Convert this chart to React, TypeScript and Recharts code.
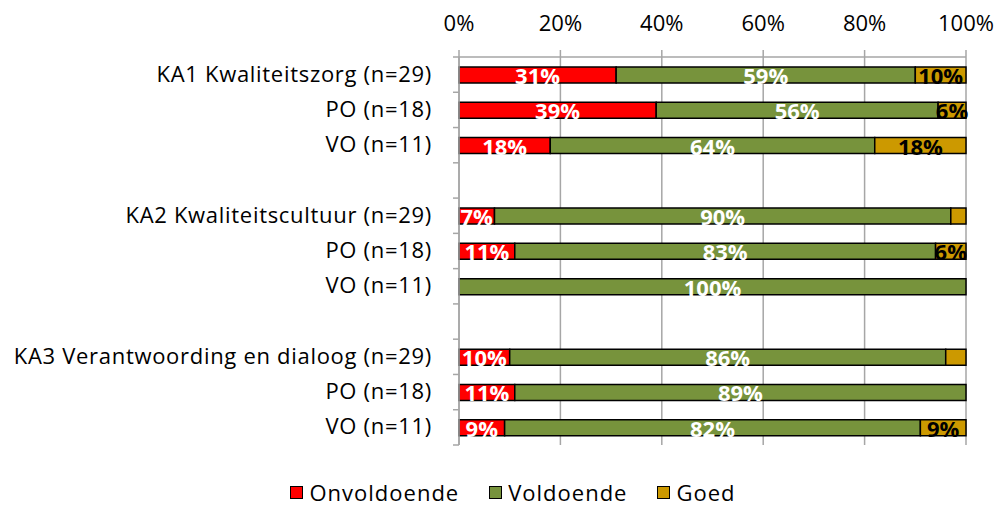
import { BarChart, Bar, XAxis, YAxis, CartesianGrid, Legend, LabelList } from 'recharts';

const categories = [
    'KA1 Kwaliteitszorg (n=29)',
    'PO (n=18)',
    'VO (n=11)',
    '',
    'KA2 Kwaliteitscultuur (n=29)',
    'PO (n=18)',
    'VO (n=11)',
    '',
    'KA3 Verantwoording en dialoog (n=29)',
    'PO (n=18)',
    'VO (n=11)',
];
const onvoldoende = [31, 38.9, 18, null, 7, 11, 0, null, 10, 11, 9];
const voldoende = [59, 55.6, 64, null, 90, 83, 100, null, 86, 89, 82];
const goed = [10, 5.5, 18, null, 3, 6, 0, null, 4, 0, 9];
const xTicks = [0, 20, 40, 60, 80, 100];

const series = [
    { key: 'onv', name: 'Onvoldoende', color: '#ff0000', text: '#ffffff' },
    { key: 'vol', name: 'Voldoende', color: '#77933c', text: '#ffffff' },
    { key: 'goed', name: 'Goed', color: '#cc9900', text: '#000000' },
];

const data = categories.map((c, i) => ({
    id: 'c' + i,
    label: c,
    onv: onvoldoende[i],
    vol: voldoende[i],
    goed: goed[i],
}));

const W = 1008;
const H = 508;
const legendH = 31;
const margin = { top: 12, right: 42, bottom: 63 - legendH, left: 0 };
const band = (445 - 57) / categories.length;
const font = '"Open Sans", sans-serif';

function CatTick(props: any) {
    const { x, y, index } = props;
    const label = data[index] ? data[index].label : '';
    return (
        <g>
            <line x1={x - 6} x2={x} y1={y - band / 2} y2={y - band / 2} stroke="#a6a6a6" strokeWidth={1.5} />
            {index === categories.length - 1 && (
                <line x1={x - 6} x2={x} y1={y + band / 2} y2={y + band / 2} stroke="#a6a6a6" strokeWidth={1.5} />
            )}
            <text x={x - 27} y={y} dy={7} textAnchor="end" fontFamily={font} fontSize={22} letterSpacing={0.7} fill="#000">
                {label}
            </text>
        </g>
    );
}

function makeLabel(color: string) {
    return (props: any) => {
        const { x, y, width, height, value } = props;
        if (value == null || value < 5) return null;
        return (
            <text
                x={x + width / 2}
                y={y + height / 2}
                dy={9}
                textAnchor="middle"
                fontFamily={font}
                fontWeight="bold"
                fontSize={22}
                fill={color}
            >
                {Math.round(value) + '%'}
            </text>
        );
    };
}

function LegendContent() {
    return (
        <div
            style={{
                height: legendH,
                boxSizing: 'border-box',
                display: 'flex',
                justifyContent: 'center',
                gap: 30,
                fontFamily: font,
                fontSize: 22,
                letterSpacing: 1,
                lineHeight: '31px',
                paddingLeft: 60,
            }}
        >
            {series.map((s) => (
                <div key={s.key} style={{ display: 'flex', alignItems: 'center' }}>
                    <span style={{ width: 11, height: 11, background: s.color, border: '1.5px solid #000', marginRight: 6 }} />
                    <span>{s.name}</span>
                </div>
            ))}
        </div>
    );
}

export default function App() {
    return (
        <div style={{ position: 'absolute', left: 0, top: 0, background: '#fff' }}>
            <BarChart width={W} height={H} data={data} layout="vertical" margin={margin} barSize={16}>
                <CartesianGrid horizontal={false} stroke="#a6a6a6" strokeWidth={1.5} />
                <XAxis
                    type="number"
                    orientation="top"
                    domain={[0, 100]}
                    ticks={xTicks}
                    tickFormatter={(v) => v + '%'}
                    height={45}
                    axisLine={{ stroke: '#a6a6a6', strokeWidth: 1.5 }}
                    tickLine={{ stroke: '#a6a6a6', strokeWidth: 1.5 }}
                    tickSize={7}
                    tickMargin={19}
                    tick={{ fill: '#000', fontSize: 22, fontFamily: font }}
                />
                <YAxis
                    type="category"
                    dataKey="id"
                    width={459}
                    axisLine={{ stroke: '#a6a6a6', strokeWidth: 1.5 }}
                    tickLine={false}
                    tickSize={0}
                    tickMargin={0}
                    tick={<CatTick />}
                    interval={0}
                />
                {series.map((s) => (
                    <Bar
                        key={s.key}
                        dataKey={s.key}
                        name={s.name}
                        stackId="a"
                        fill={s.color}
                        stroke="#000"
                        strokeWidth={1.5}
                        isAnimationActive={false}
                    >
                        <LabelList dataKey={s.key} content={makeLabel(s.text)} />
                    </Bar>
                ))}
                <Legend verticalAlign="bottom" content={<LegendContent />} wrapperStyle={{ bottom: 0 }} />
            </BarChart>
        </div>
    );
}
